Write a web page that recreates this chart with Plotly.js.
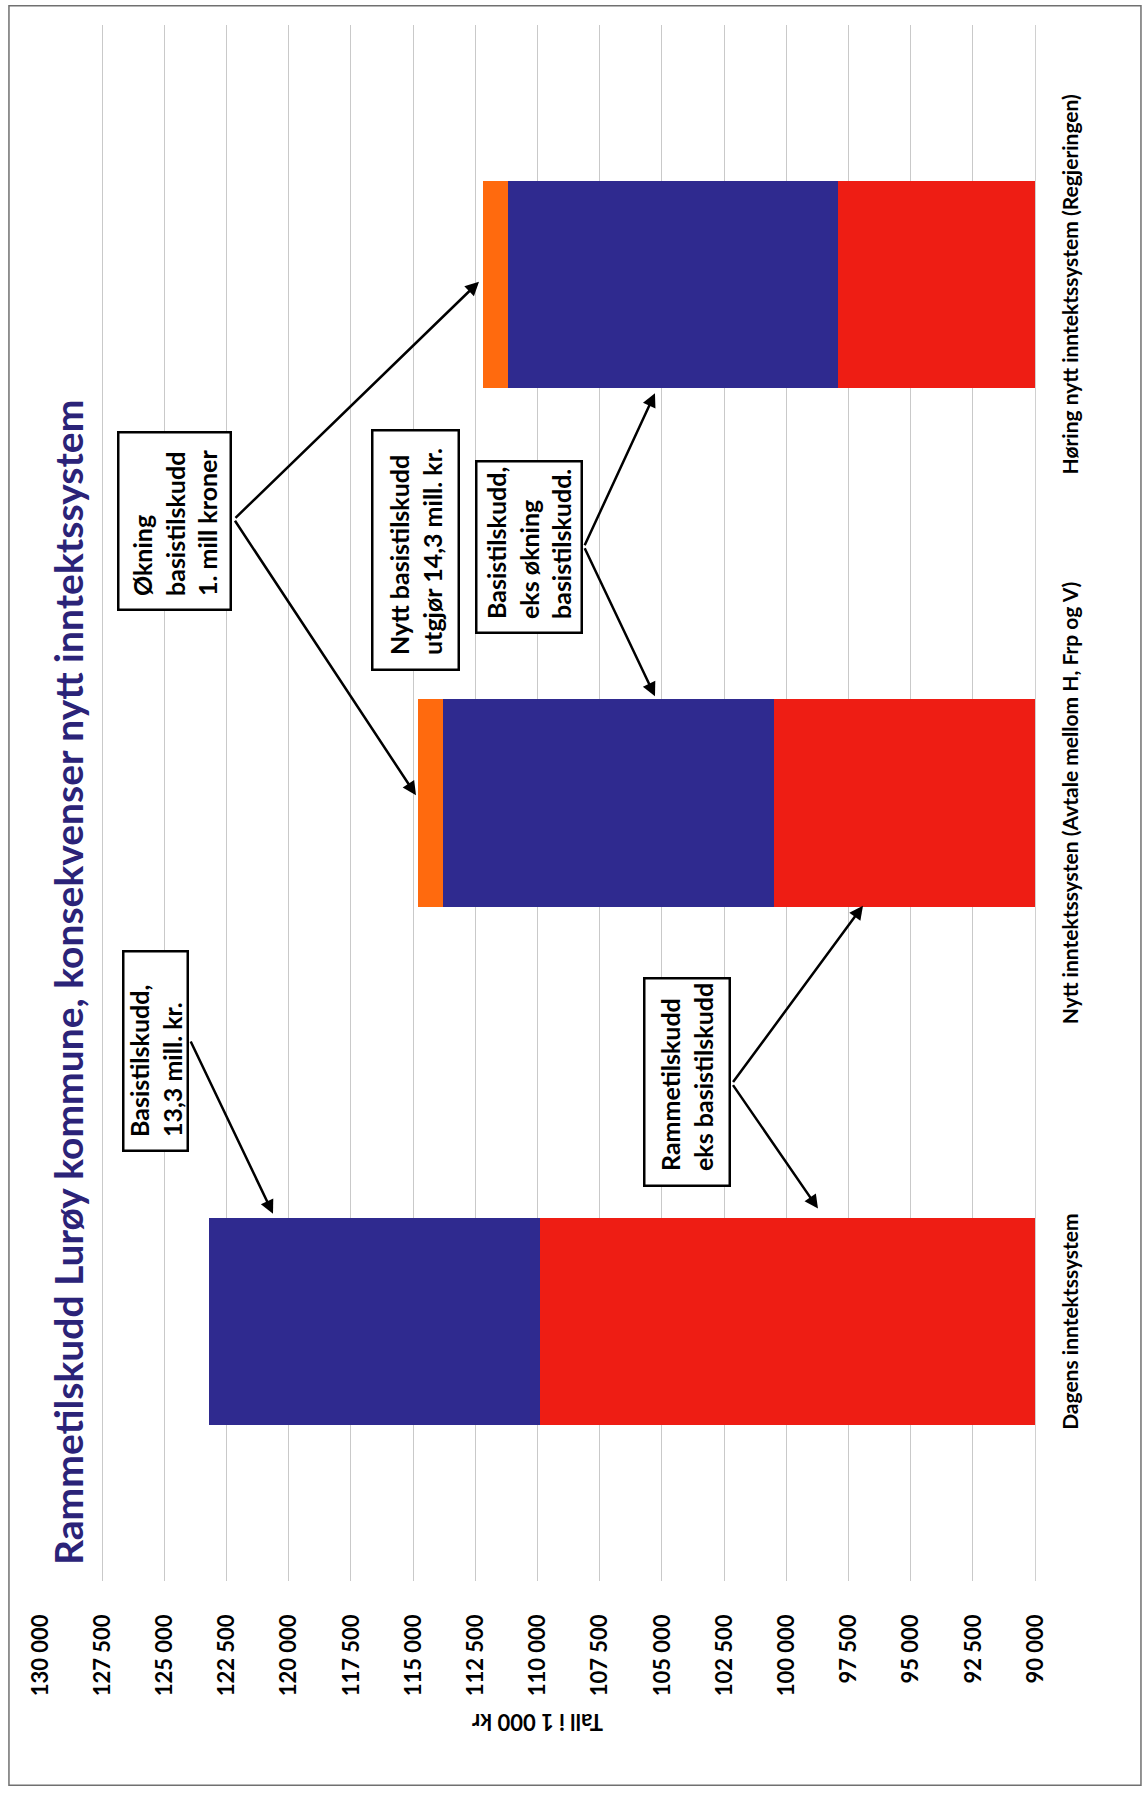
<!DOCTYPE html>
<html>
<head>
<meta charset="utf-8">
<script src="https://cdn.plot.ly/plotly-3.0.1.min.js"></script>
<style>
  html, body { margin: 0; padding: 0; background: #ffffff; overflow: hidden; width: 1148px; height: 1793px; }
  #wrap { position: absolute; left: 0; top: 0; width: 1793px; height: 1148px;
          transform-origin: 0 0; transform: translate(0px, 1793px) rotate(-90deg); }
  #chart { width: 1793px; height: 1148px; }
</style>
</head>
<body>
<div id="wrap"><div id="chart"></div></div>
<script>
// ---- data ----
const categories = [
  'Dagens inntektssystem',
  'Nytt inntektssysten (Avtale mellom H, Frp og V)',
  'Høring nytt inntektssystem (Regjeringen)'
];
const rammetilskuddEksBasis = [109900, 100500, 97900];
const basistilskudd = [13300, 13300, 13300];
const okningBasistilskudd = [0, 1000, 1000];
const seriesNames = ['Rammetilskudd eks basistilskudd', 'Basistilskudd', 'Økning basistilskudd'];
const titleText = 'Rammetilskudd Lurøy kommune, konsekvenser nytt inntektssystem';
const yAxisTitle = 'Tall i 1 000 kr';
const noteTexts = {
  A: 'Basistilskudd,<br>13,3 mill. kr.',
  B: 'Rammetilskudd<br>eks basistilskudd',
  C: 'Nytt basistilskudd<br>utgjør 14,3 mill. kr.',
  D: 'Økning<br>basistilskudd<br>1. mill kroner',
  E: 'Basistilskudd,<br>eks økning<br>basistilskudd.'
};

const FONT = 'Lato, "Open Sans", sans-serif';
const colors = ['#ee1d14', '#2f2a8f', '#ff6a0e'];

const traces = [rammetilskuddEksBasis, basistilskudd, okningBasistilskudd].map((vals, i) => ({
  type: 'bar', name: seriesNames[i], x: categories, y: vals,
  marker: { color: colors[i], line: { width: 0 } }, hoverinfo: 'name+y'
}));

const PX_PER_CAT = 517;
function note(text, cx, cy, w, h) {
  const frame = { text: ' ', x: cx, y: cy, xref: 'x', yref: 'y', showarrow: false,
    width: w - 5, height: h - 5, bgcolor: '#ffffff', bordercolor: '#000000',
    borderwidth: 2.5, borderpad: 0, font: { size: 2 } };
  const label = { text: '<b>' + text + '</b>', x: cx - (w / 2 - 14) / PX_PER_CAT, y: cy,
    xref: 'x', yref: 'y', xanchor: 'left', yanchor: 'middle', align: 'left', showarrow: false,
    font: { family: FONT, size: 25, color: '#000000', weight: 700 } };
  return [frame, label];
}
function arrow(tx, ty, hx, hy) {
  return { text: '', x: hx, y: hy, ax: tx, ay: ty, xref: 'x', yref: 'y', axref: 'x', ayref: 'y',
    showarrow: true, arrowhead: 2, arrowsize: 1.1, arrowwidth: 2.5, arrowcolor: '#000000',
    standoff: 0, startstandoff: 0, font: { size: 1 } };
}

const annotations = [
  { text: '<b>' + titleText + '</b>', xref: 'paper', yref: 'paper', x: 0.009, y: 0.972,
    xanchor: 'left', yanchor: 'middle', showarrow: false,
    font: { family: FONT, size: 39, color: '#2b2378', weight: 700 } },
  ...note(noteTexts.A, 0.521, 125357, 202, 67),
  arrow(0.543, 123970, 0.208, 120633),
  ...note(noteTexts.B, 0.463, 103991, 210, 88),
  arrow(0.459, 102182, 0.802, 96915),
  arrow(0.459, 102182, 0.218, 98724),
  ...note(noteTexts.C, 1.488, 114905, 242, 89),
  ...note(noteTexts.D, 1.543, 124593, 180, 115),
  arrow(1.547, 122201, 2.005, 112352),
  arrow(1.547, 122201, 1.015, 114885),
  ...note(noteTexts.E, 1.493, 110342, 174, 108),
  arrow(1.494, 108131, 1.790, 105277),
  arrow(1.494, 108131, 1.206, 105277)
];

const layout = {
  width: 1793, height: 1148,
  margin: { l: 212, r: 25, t: 40, b: 113, pad: 0 },
  paper_bgcolor: '#ffffff', plot_bgcolor: '#ffffff',
  barmode: 'stack', bargap: 0.6, showlegend: false,
  separators: ', ',
  font: { family: FONT, color: '#000000' },
  xaxis: {
    type: 'category', showgrid: false, showline: true, linecolor: '#d0d0d0', linewidth: 1,
    ticks: '', ticklabelstandoff: 17,
    tickfont: { family: FONT, size: 21, color: '#000000', weight: 700 }
  },
  yaxis: {
    range: [90000, 130000], dtick: 2500, tick0: 90000, tickformat: ',d',
    showgrid: true, gridcolor: '#c9c9c9', gridwidth: 1, zeroline: false, showline: false,
    ticks: 'outside', ticklen: 28, tickcolor: 'rgba(0,0,0,0)',
    tickfont: { family: FONT, size: 22, color: '#000000', weight: 700 },
    title: { text: '<b>' + yAxisTitle + '</b>', standoff: 10,
             font: { family: FONT, size: 22, color: '#000000', weight: 700 } }
  },
  shapes: [
    { type: 'rect', xref: 'paper', yref: 'paper', x0: -0.1312, x1: 1.0123, y0: -0.1065, y1: 1.0312,
      line: { color: '#707070', width: 1.5 }, fillcolor: 'rgba(0,0,0,0)', layer: 'above' }
  ],
  annotations: annotations
};

Plotly.newPlot('chart', traces, layout, { displayModeBar: false, staticPlot: true });
</script>
</body>
</html>
